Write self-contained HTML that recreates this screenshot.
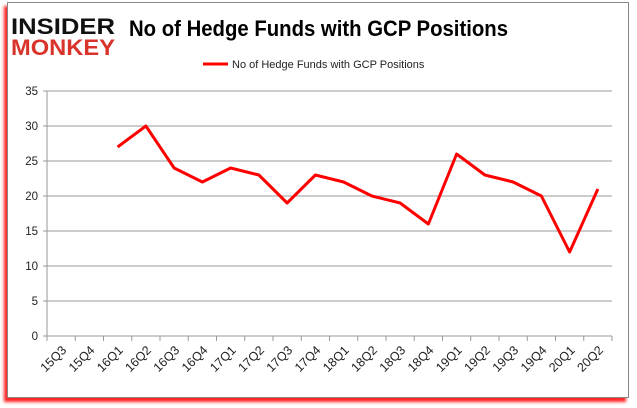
<!DOCTYPE html>
<html><head><meta charset="utf-8"><style>
body{margin:0;width:637px;height:408px;background:#fff;overflow:hidden;font-family:"Liberation Sans",sans-serif}
#frame{position:absolute;left:7px;top:2px;width:620px;height:394px;border:1px solid #888;box-shadow:-3px 4px 3px #f22;background:#fff}
</style></head><body>
<div id="frame"></div>
<svg id="c" width="637" height="408" style="position:absolute;left:0;top:0">
<g>
<text x="11" y="34" font-size="22" font-weight="bold" fill="#111" font-family="Liberation Sans,sans-serif" textLength="104" lengthAdjust="spacingAndGlyphs">INSIDER</text>
<text x="11" y="55" font-size="22" font-weight="bold" fill="#d9342b" font-family="Liberation Sans,sans-serif" textLength="104" lengthAdjust="spacingAndGlyphs">MONKEY</text>
</g>
<text x="129" y="36" font-size="22" font-weight="bold" fill="#000" textLength="379" lengthAdjust="spacingAndGlyphs">No of Hedge Funds with GCP Positions</text>
<g>
<line x1="203" y1="64" x2="228" y2="64" stroke="#f00" stroke-width="3"/>
<text x="232" y="68" font-size="11" fill="#222">No of Hedge Funds with GCP Positions</text>
</g>
<g id="grid"></g><g id="axes"></g><g id="series"></g>
</svg>
<script>
const categories=["15Q3","15Q4","16Q1","16Q2","16Q3","16Q4","17Q1","17Q2","17Q3","17Q4","18Q1","18Q2","18Q3","18Q4","19Q1","19Q2","19Q3","19Q4","20Q1","20Q2"];
const values=[null,null,27,30,24,22,24,23,19,23,22,20,19,16,26,23,22,20,12,21];
const yTicks=[0,5,10,15,20,25,30,35];
const L=47,R=612,T=91,B=336,yMax=35;
const NS="http://www.w3.org/2000/svg";
const step=(R-L)/categories.length;
const xs=i=>L+step*(i+0.5);
const ys=v=>B-(v/yMax)*(B-T);
function mk(t,a,p){const e=document.createElementNS(NS,t);for(const k in a)e.setAttribute(k,a[k]);p.appendChild(e);return e;}
const g=document.getElementById('grid'),ax=document.getElementById('axes'),s=document.getElementById('series');
yTicks.forEach(v=>{
 const l=mk('line',{x1:L-4,x2:R,y1:ys(v),y2:ys(v),stroke:'#999','stroke-width':1},g);
 
 
 const t=mk('text',{x:L-9,y:ys(v)+4,'text-anchor':'end','font-size':11.5,fill:'#222'},ax);
 t.textContent=v;
 
 
});
mk('line',{x1:L,x2:L,y1:T,y2:B,stroke:'#999'},ax);
for(let i=0;i<=categories.length;i++){const x=L+step*i;mk('line',{x1:x,x2:x,y1:B,y2:B+5,stroke:'#999'},ax);}
categories.forEach((c,i)=>{
 const x=xs(i),y=B+15;
 const t=mk('text',{x:x+6,y:y,'text-anchor':'end','font-size':12.5,fill:'#222',transform:`rotate(-45 ${x+6} ${y})`},ax);
 t.textContent=c;
 
 
});
let d='';values.forEach((v,i)=>{if(v==null)return;d+=(d?'L':'M')+xs(i)+' '+ys(v);});
const p=mk('path',{d:d,fill:'none',stroke:'#f00','stroke-width':3,'stroke-linejoin':'round'},s);


</script>
</body></html>
